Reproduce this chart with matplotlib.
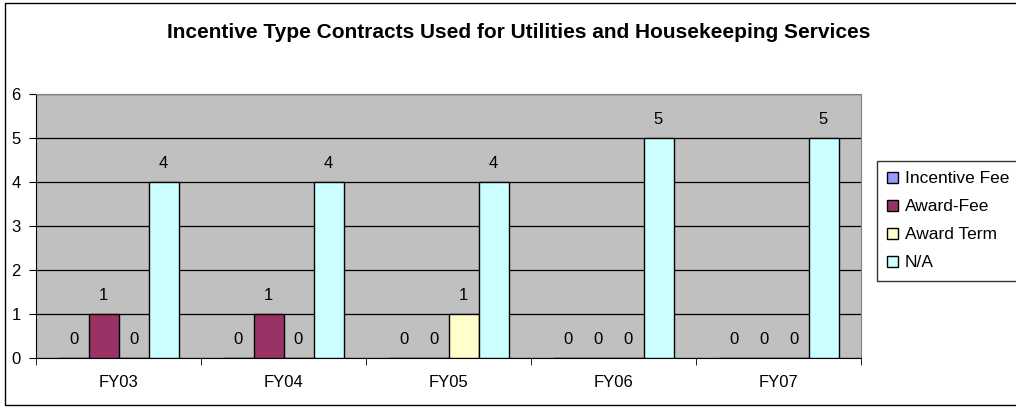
import numpy as np
import matplotlib
matplotlib.use('Agg')
import matplotlib.pyplot as plt
from matplotlib.patches import Rectangle

plt.rcParams['font.family'] = ['Liberation Sans', 'DejaVu Sans']

# chart data
years = ['FY03', 'FY04', 'FY05', 'FY06', 'FY07']
series_names = ['Incentive Fee', 'Award-Fee', 'Award Term', 'N/A']
incentive_fee = [0, 0, 0, 0, 0]
award_fee = [1, 1, 0, 0, 0]
award_term = [0, 0, 1, 0, 0]
not_applicable = [4, 4, 4, 5, 5]
colors = ['#9999FF', '#993366', '#FFFFCC', '#CCFFFF']

fig = plt.figure(figsize=(10.16, 4.08), dpi=100)
ax = fig.add_axes([36 / 1016, 1 - 358 / 408, 825 / 1016, 264 / 408])
ax.set_facecolor('#C0C0C0')

# outer chart border
fig.patches.append(Rectangle((5 / 1016, 3 / 408), 1.05, 402 / 408, transform=fig.transFigure,
                             fill=False, edgecolor='black', linewidth=1.0))

x = np.arange(len(years))
width = 30 / 165
all_series = [incentive_fee, award_fee, award_term, not_applicable]
for i, (name, vals) in enumerate(zip(series_names, all_series)):
    pos = x + (i - 1.5) * width
    ax.bar(pos, vals, width, color=colors[i], edgecolor='black', linewidth=1.0,
           label=name, zorder=3)
    for px, v in zip(pos, vals):
        ax.annotate(str(v), (px, v), xytext=(0, 8), textcoords='offset points',
                    ha='center', va='bottom', fontsize=12)

ax.set_xlim(-0.5, len(years) - 0.5)
ax.set_ylim(0, 6)
ax.set_yticks(range(0, 7))
ax.yaxis.grid(True, color='black', linewidth=0.9, zorder=0)
ax.set_axisbelow(True)

ax.set_xticks(x)
ax.set_xticklabels(years, fontsize=12)
ax.tick_params(axis='x', length=0, pad=12)
ax.set_xticks(np.arange(-0.5, len(years)), minor=True)
ax.tick_params(axis='x', which='minor', length=5, direction='out')
ax.tick_params(axis='y', length=5, direction='out', labelsize=12, pad=6)

for s in ['top', 'right']:
    ax.spines[s].set_color('#808080')
ax.spines['left'].set_color('black')
ax.spines['bottom'].set_color('black')

fig.text(519 / 1016, 1 - 32 / 408,
         'Incentive Type Contracts Used for Utilities and Housekeeping Services',
         ha='center', va='center', fontsize=15, fontweight='bold')

leg = fig.legend(loc='upper left', bbox_to_anchor=(877 / 1016, 1 - 161 / 408),
                 fontsize=12.5, frameon=True, fancybox=False, handlelength=0.6,
                 handleheight=0.6, handletextpad=0.4, borderpad=0.6, labelspacing=0.75,
                 borderaxespad=0)
leg.get_frame().set_edgecolor('black')
leg.get_frame().set_linewidth(1.0)

fig.savefig('out.png', dpi=100)
